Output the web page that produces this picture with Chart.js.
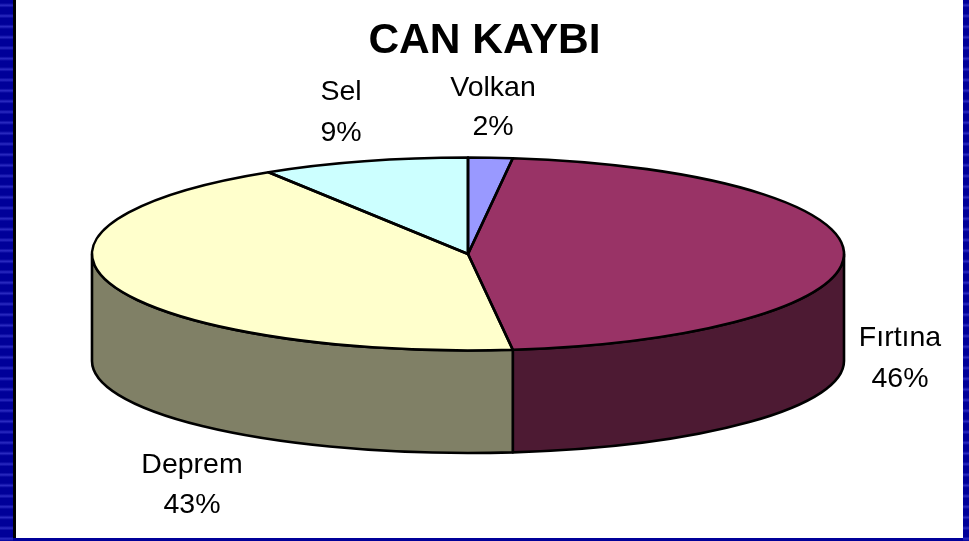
<!DOCTYPE html>
<html><head><meta charset="utf-8">
<style>
html,body{margin:0;padding:0;width:969px;height:541px;overflow:hidden;background:#000099}
#stripeL,#stripeR{position:absolute;top:0;height:541px;background:repeating-linear-gradient(180deg,#000099 0,#000099 3px,#2a2ac0 5.3px,#000099 7.6px,#000099 10.67px)}
#stripeL{left:0;width:13px}
#stripeR{left:963px;width:6px}
#panel{position:absolute;left:13px;top:0;width:950px;height:538px;background:#fff;border-left:3px solid #000;box-sizing:border-box}
#wrap{position:absolute;left:0;top:0;width:969px;height:541px}
</style>
<script src="https://cdn.jsdelivr.net/npm/chart.js@4"></script>
</head><body>
<div id="stripeL"></div><div id="stripeR"></div><div id="panel"></div>
<div id="wrap"><canvas id="c" width="969" height="541"></canvas></div>
<script>
const titleText = "CAN KAYBI";
const categories = ["Volkan", "Fırtına", "Deprem", "Sel"];
const values = [1.9, 46.2, 43, 8.9];
const topColors = ["#9999FF", "#993366", "#FFFFCC", "#CCFFFF"];
const wallColors = ["#4D4D80", "#4D1A33", "#808066", "#668080"];
const labelAnchors = [[493, 88, 127], [900, 338, 379], [192, 465, 505], [341, 92, 133]];
const geom = {cx: 468, cy: 254, rx: 376, ry: 96.5, botCy: 361, botRy: 92};
const outline = 2.6;

const pie3d = {
  id: "pie3d",
  beforeDatasetDraw(chart) {
    const ctx = chart.ctx, arcs = chart.getDatasetMeta(0).data;
    ctx.save();
    ctx.lineWidth = outline; ctx.strokeStyle = "#000"; ctx.lineJoin = "round";
    arcs.forEach((arc, i) => {
      const a0 = Math.max(arc.startAngle, 0), a1 = Math.min(arc.endAngle, Math.PI);
      if (a1 <= a0) return;
      ctx.beginPath();
      ctx.ellipse(geom.cx, geom.cy, geom.rx, geom.ry, 0, a0, a1, false);
      ctx.ellipse(geom.cx, geom.botCy, geom.rx, geom.botRy, 0, a1, a0, true);
      ctx.closePath();
      ctx.fillStyle = wallColors[i];
      ctx.fill();
      ctx.stroke();
    });
    ctx.restore();
    const a = arcs[0], r = a.outerRadius;
    ctx.save();
    ctx.translate(geom.cx, geom.cy);
    ctx.scale(geom.rx / r, geom.ry / r);
    ctx.translate(-a.x, -a.y);
  },
  afterDatasetDraw(chart) {
    const ctx = chart.ctx, arcs = chart.getDatasetMeta(0).data;
    ctx.restore();
    ctx.save();
    ctx.lineWidth = outline; ctx.strokeStyle = "#000"; ctx.lineJoin = "round";
    arcs.forEach(arc => {
      ctx.beginPath();
      ctx.moveTo(geom.cx, geom.cy);
      ctx.ellipse(geom.cx, geom.cy, geom.rx, geom.ry, 0, arc.startAngle, arc.endAngle);
      ctx.closePath();
      ctx.stroke();
    });
    ctx.fillStyle = "#000";
    ctx.font = "28.5px 'Liberation Sans', Arial, sans-serif";
    ctx.textAlign = "center"; ctx.textBaseline = "middle";
    const total = values.reduce((s, v) => s + v, 0);
    categories.forEach((name, i) => {
      const [x, y1, y2] = labelAnchors[i];
      ctx.fillText(name, x, y1);
      ctx.fillText(Math.round(values[i] / total * 100) + "%", x, y2);
    });
    ctx.restore();
  }
};
new Chart(document.getElementById("c"), {
  type: "pie",
  data: {labels: categories, datasets: [{data: values, backgroundColor: topColors, borderWidth: 0, clip: false}]},
  options: {
    responsive: false, animation: false,
    plugins: {
      legend: {display: false}, tooltip: {enabled: false},
      title: {display: true, text: titleText, color: "#000", padding: {top: 15.5, bottom: 6},
              font: {family: "'Liberation Sans', Arial, sans-serif", size: 42.5, weight: "bold"}}
    }
  },
  plugins: [pie3d]
});
</script>
</body></html>
